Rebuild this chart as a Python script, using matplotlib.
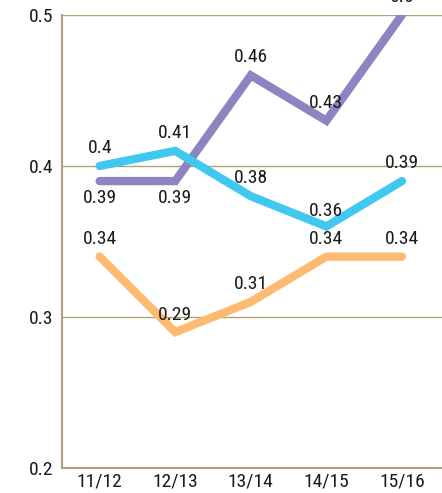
import matplotlib
matplotlib.use("Agg")
from matplotlib import pyplot as plt

seasons = ["11/12", "12/13", "13/14", "14/15", "15/16"]
purple_vals = [0.39, 0.39, 0.46, 0.43, 0.5]
cyan_vals = [0.40, 0.41, 0.38, 0.36, 0.39]
orange_vals = [0.34, 0.29, 0.31, 0.34, 0.34]

purple_labels = ["0.39", "0.39", "0.46", "0.43", "0.5"]
cyan_labels = ["0.4", "0.41", "0.38", "0.36", "0.39"]
orange_labels = ["0.34", "0.29", "0.31", "0.34", "0.34"]

y_ticks = [0.2, 0.3, 0.4, 0.5]

purple = "#8b86c2"
cyan = "#40c8f0"
orange = "#fdba72"
grid_col = "#b0a27a"

plt.rcParams['font.family'] = ['Roboto Condensed', 'DejaVu Sans']

fig = plt.figure(figsize=(4.42, 4.93), dpi=100)
ax = fig.add_axes([0.140, 0.0507, 0.86, 0.9189])

x = list(range(len(seasons)))
ax.plot(x, orange_vals, color=orange, lw=6, solid_capstyle='round', solid_joinstyle='miter', zorder=3)
ax.plot(x, purple_vals, color=purple, lw=6, solid_capstyle='round', solid_joinstyle='miter', zorder=4)
ax.plot(x, cyan_vals, color=cyan, lw=6, solid_capstyle='round', solid_joinstyle='miter', zorder=5)

# value labels, shifted in points above or below each point
def label_series(vals, labels, offsets):
    for i, (v, t) in enumerate(zip(vals, labels)):
        ax.annotate(t, (i, v), xytext=(0, offsets[i]), textcoords='offset points',
                    ha='center', va='center', fontsize=14, color='#1a1a1a',
                    zorder=10, annotation_clip=False)

label_series(purple_vals, purple_labels, [-12, -12, 13, 13, 13])
label_series(cyan_vals, cyan_labels, [13, 13, 13, 11, 13])
label_series(orange_vals, orange_labels, [13, 12, 13, 13, 13])

ax.set_xlim(-0.5, 4.53)
ax.set_ylim(0.2, 0.5)
ax.set_yticks(y_ticks)
ax.set_yticklabels([str(t) for t in y_ticks])
ax.set_xticks(x)
ax.set_xticklabels(seasons)
ax.tick_params(length=0, labelsize=14, colors='#1a1a1a')
ax.tick_params(axis='y', pad=6)
ax.tick_params(axis='x', pad=3)

ax.grid(axis='y', color=grid_col, lw=1, zorder=0)
ax.set_axisbelow(True)
for side in ['top', 'right']:
    ax.spines[side].set_visible(False)
for side in ['left', 'bottom']:
    ax.spines[side].set_color(grid_col)
    ax.spines[side].set_linewidth(1.5)

fig.savefig("out.png", dpi=100)
